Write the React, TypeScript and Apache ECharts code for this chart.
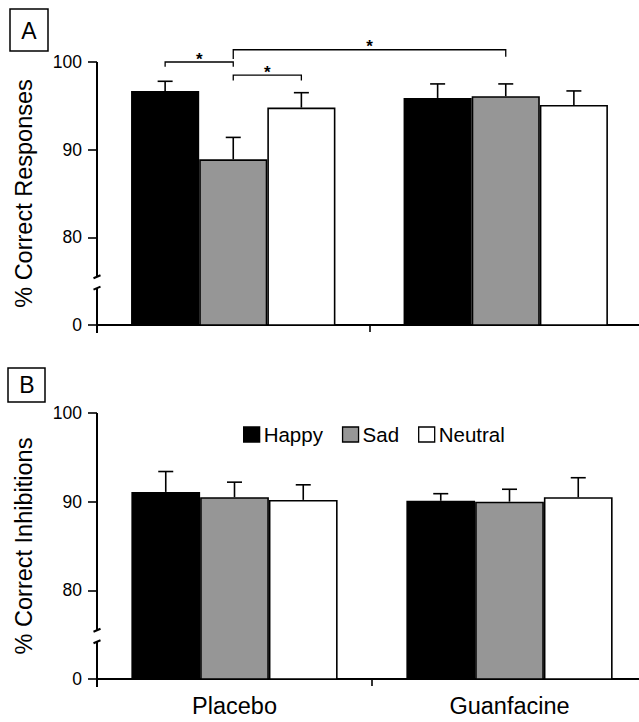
import React, { useEffect, useRef } from "react";
import * as echarts from "echarts";

const groups = ["Placebo", "Guanfacine"];
const conditions = ["Happy", "Sad", "Neutral"];
const condColors = ["#000000", "#969696", "#ffffff"];

// Panel A: % Correct Responses (means and SEM)
const respHappy = [96.7, 95.9];
const respSad = [88.9, 96.1];
const respNeutral = [94.8, 95.1];
const respHappyErr = [1.1, 1.6];
const respSadErr = [2.5, 1.4];
const respNeutralErr = [1.7, 1.6];

// Panel B: % Correct Inhibitions (means and SEM)
const inhHappy = [91.1, 90.1];
const inhSad = [90.5, 90.0];
const inhNeutral = [90.2, 90.5];
const inhHappyErr = [2.3, 0.8];
const inhSadErr = [1.7, 1.4];
const inhNeutralErr = [1.7, 2.2];

// broken axis: value 70 is drawn as "0"
const yTicks = [70, 80, 90, 100];
const yTickLabels = ["0", "80", "90", "100"];
const breakTop = 75.5;
const breakBottom = 74.2;

// significance brackets (panel A): [fromGroup, fromCond, toGroup, toCond, level, fromEnd, toEnd]
const brackets = [
  [0, 0, 0, 1, 100.0, 99.45, 99.45],
  [0, 1, 0, 2, 98.5, 97.9, 97.9],
  [0, 1, 1, 1, 101.4, 100.35, 100.6],
];
const bracketLabels = ["*", "*", "*"];

const FONT = "'Liberation Sans', Arial, Helvetica, sans-serif";

export default function App() {
  const ref = useRef<HTMLDivElement>(null);

  useEffect(() => {
    if (!ref.current) return;
    const chart = echarts.init(ref.current, null, { renderer: "svg" });

    const barW = (api: any) => (api.size([1, 0])[0] * 0.75) / 3;

    const errSeries = (vals: number[][], errs: number[][], idx: number) => {
      const data: number[][] = [];
      vals.forEach((arr, c) => arr.forEach((v, g) => data.push([g, c, v, errs[c][g]])));
      return {
        type: "custom",
        xAxisIndex: idx,
        yAxisIndex: idx,
        z: 5,
        silent: true,
        encode: { x: 0, y: 2 },
        data,
        renderItem: (_p: any, api: any) => {
          const g = api.value(0);
          const c = api.value(1);
          const v = api.value(2);
          const e = api.value(3);
          const bw = barW(api);
          const base = api.coord([g, v]);
          const x = base[0] + (c - 1) * bw;
          const yTop = api.coord([g, v + e])[1];
          const st = { stroke: "#000", lineWidth: 1.6 };
          return {
            type: "group",
            children: [
              { type: "line", shape: { x1: x, y1: base[1], x2: x, y2: yTop }, style: st },
              { type: "line", shape: { x1: x - 7.5, y1: yTop, x2: x + 7.5, y2: yTop }, style: st },
            ],
          };
        },
      };
    };

    const breakSeries = (idx: number) => ({
      type: "custom",
      xAxisIndex: idx,
      yAxisIndex: idx,
      z: 6,
      silent: true,
      encode: { x: 0, y: 1 },
      data: [[0, 100]],
      renderItem: (params: any, api: any) => {
        const cs = params.coordSys;
        const x = cs.x;
        const yTopPx = api.coord([0, breakTop])[1];
        const yBotPx = api.coord([0, breakBottom])[1];
        const st = { stroke: "#000", lineWidth: 2 };
        return {
          type: "group",
          children: [
            { type: "line", shape: { x1: x, y1: cs.y, x2: x, y2: yTopPx }, style: st },
            { type: "line", shape: { x1: x - 3.5, y1: yTopPx + 1.5, x2: x + 3.5, y2: yTopPx - 1.5 }, style: st },
            { type: "line", shape: { x1: x - 3.5, y1: yBotPx + 1.5, x2: x + 3.5, y2: yBotPx - 1.5 }, style: st },
            { type: "line", shape: { x1: x, y1: yBotPx, x2: x, y2: cs.y + cs.height + 8 }, style: st },
          ],
        };
      },
    });

    const bracketSeries = {
      type: "custom",
      xAxisIndex: 0,
      yAxisIndex: 0,
      z: 6,
      silent: true,
      encode: { x: 0, y: 4 },
      data: brackets,
      renderItem: (params: any, api: any) => {
        const bw = barW(api);
        const x1 = api.coord([api.value(0), 90])[0] + (api.value(1) - 1) * bw;
        const x2 = api.coord([api.value(2), 90])[0] + (api.value(3) - 1) * bw;
        const yL = api.coord([0, api.value(4)])[1];
        const y1 = api.coord([0, api.value(5)])[1];
        const y2 = api.coord([0, api.value(6)])[1];
        const st = { stroke: "#000", lineWidth: 1.3 };
        return {
          type: "group",
          children: [
            { type: "polyline", shape: { points: [[x1, y1], [x1, yL], [x2, yL], [x2, y2]] }, style: { ...st, fill: null } },
            {
              type: "text",
              x: (x1 + x2) / 2,
              y: yL - 3,
              style: {
                text: bracketLabels[params.dataIndex],
                fill: "#000",
                fontSize: 17,
                fontWeight: "bold",
                fontFamily: FONT,
                align: "center",
                verticalAlign: "middle",
              },
            },
          ],
        };
      },
    };

    const respVals = [respHappy, respSad, respNeutral];
    const respErrs = [respHappyErr, respSadErr, respNeutralErr];
    const inhVals = [inhHappy, inhSad, inhNeutral];
    const inhErrs = [inhHappyErr, inhSadErr, inhNeutralErr];

    const barSeries = (vals: number[][], idx: number) =>
      vals.map((arr, c) => ({
        type: "bar",
        name: conditions[c],
        xAxisIndex: idx,
        yAxisIndex: idx,
        data: arr,
        barGap: "0%",
        barCategoryGap: "25%",
        itemStyle: { color: condColors[c], borderColor: "#000", borderWidth: 1.6 },
        z: 2,
      }));

    const xAxis = (idx: number, showLabels: boolean) => ({
      type: "category",
      gridIndex: idx,
      data: groups,
      axisLine: { lineStyle: { color: "#000", width: 2 } },
      axisTick: { show: true, length: 7, lineStyle: { color: "#000", width: 1.6 } },
      axisLabel: { show: showLabels, color: "#000", fontSize: 23.5, fontFamily: FONT, margin: 15 },
      splitLine: { show: false },
    });

    const yAxis = (idx: number, name: string) => ({
      type: "value",
      gridIndex: idx,
      min: 70,
      max: 100,
      interval: 10,
      name,
      nameLocation: "middle",
      nameGap: 61,
      nameTextStyle: { color: "#000", fontSize: 23.5, fontFamily: FONT },
      axisLine: { show: false },
      axisTick: { show: true, length: 9, lineStyle: { color: "#000", width: 1.6 } },
      axisLabel: {
        color: "#000",
        fontSize: 17.5,
        fontFamily: FONT,
        margin: 15,
        formatter: (v: number) => {
          const i = yTicks.indexOf(v);
          return i >= 0 ? yTickLabels[i] : "";
        },
      },
      splitLine: { show: false },
    });

    chart.setOption({
      animation: false,
      backgroundColor: "#ffffff",
      textStyle: { fontFamily: FONT },
      grid: [
        { left: 97, top: 62, width: 545, height: 263, containLabel: false, outerBoundsMode: "none" },
        { left: 97, top: 413, width: 550, height: 266, containLabel: false, outerBoundsMode: "none" },
      ],
      legend: {
        data: conditions,
        left: 238,
        top: 419,
        icon: "rect",
        itemWidth: 16,
        itemHeight: 15,
        itemGap: 19,
        itemStyle: { borderColor: "#000", borderWidth: 1.3 },
        textStyle: { color: "#000", fontSize: 20.5, fontFamily: FONT, padding: [0, 0, 0, -1] },
        selectedMode: false,
      },
      xAxis: [xAxis(0, false), xAxis(1, true)],
      yAxis: [yAxis(0, "% Correct Responses"), yAxis(1, "% Correct Inhibitions")],
      graphic: [
        { type: "rect", shape: { x: 10, y: 9, width: 38, height: 42 }, style: { fill: "#fff", stroke: "#000", lineWidth: 1.5 } },
        { type: "text", x: 29, y: 31, style: { text: "A", fill: "#000", fontSize: 23, fontFamily: FONT, align: "center", verticalAlign: "middle" } },
        { type: "rect", shape: { x: 8, y: 368, width: 37, height: 34 }, style: { fill: "#fff", stroke: "#000", lineWidth: 1.5 } },
        { type: "text", x: 27, y: 385, style: { text: "B", fill: "#000", fontSize: 23, fontFamily: FONT, align: "center", verticalAlign: "middle" } },
      ],
      series: [
        ...barSeries(respVals, 0),
        ...barSeries(inhVals, 1),
        errSeries(respVals, respErrs, 0),
        errSeries(inhVals, inhErrs, 1),
        breakSeries(0),
        breakSeries(1),
        bracketSeries,
      ],
    } as any);

    return () => chart.dispose();
  }, []);

  return (
    <div
      ref={ref}
      style={{ position: "fixed", left: 0, top: 0, width: 639, height: 722, background: "#fff" }}
    />
  );
}
